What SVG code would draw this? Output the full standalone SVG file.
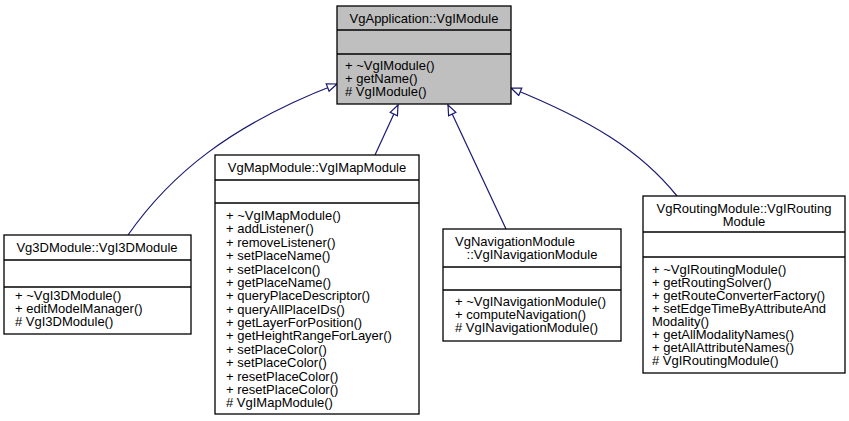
<svg xmlns="http://www.w3.org/2000/svg" width="849" height="421" viewBox="0 0 849 421">
<style>
.b{fill:#fff;stroke:#000;stroke-width:1.3}
.g{fill:#bfbfbf;stroke:#000;stroke-width:1.3}
.s{stroke:#000;stroke-width:1.3}
text{font-family:"Liberation Sans",Arial,sans-serif;font-size:13px;fill:#000}
.c{text-anchor:middle}
.e{fill:none;stroke:#191970;stroke-width:1.2}
</style>
<defs>
<marker id="a" viewBox="0 0 12 10" refX="11" refY="5" markerWidth="12" markerHeight="10" markerUnits="userSpaceOnUse" orient="auto">
<path d="M1,1 L11,5 L1,9 Z" fill="#fff" stroke="#191970" stroke-width="1.2"/>
</marker>
</defs>
<rect width="849" height="421" fill="#fff"/>
<g id="connectors">
<path class="e" marker-end="url(#a)" d="M128,235 C170,175 230,125 337,84"/>
<path class="e" marker-end="url(#a)" d="M375,155 L398,105"/>
<path class="e" marker-end="url(#a)" d="M506,229 L448,105"/>
<path class="e" marker-end="url(#a)" d="M677,196 C640,150 590,120 511,88"/>
</g>
<g id="VgIModule">
<rect class="g" x="337" y="6" width="174" height="98"/>
<line class="s" x1="337" y1="30" x2="511" y2="30"/>
<line class="s" x1="337" y1="54" x2="511" y2="54"/>
<text class="c" x="424" y="23">VgApplication::VgIModule</text>
<text x="345" y="70">+ ~VgIModule()</text>
<text x="345" y="83">+ getName()</text>
<text x="345" y="96"># VgIModule()</text>
</g>
<g id="VgI3DModule">
<rect class="b" x="4" y="235" width="187" height="99"/>
<line class="s" x1="4" y1="260" x2="191" y2="260"/>
<line class="s" x1="4" y1="287" x2="191" y2="287"/>
<text class="c" x="97" y="252">Vg3DModule::VgI3DModule</text>
<text x="15" y="300">+ ~VgI3DModule()</text>
<text x="15" y="313">+ editModelManager()</text>
<text x="15" y="326"># VgI3DModule()</text>
</g>
<g id="VgIMapModule">
<rect class="b" x="215" y="155" width="204" height="259"/>
<line class="s" x1="215" y1="180" x2="419" y2="180"/>
<line class="s" x1="215" y1="203" x2="419" y2="203"/>
<text class="c" x="317" y="172">VgMapModule::VgIMapModule</text>
<text x="226" y="220">+ ~VgIMapModule()</text>
<text x="226" y="233.4">+ addListener()</text>
<text x="226" y="246.8">+ removeListener()</text>
<text x="226" y="260.1">+ setPlaceName()</text>
<text x="226" y="273.5">+ setPlaceIcon()</text>
<text x="226" y="286.9">+ getPlaceName()</text>
<text x="226" y="300.2">+ queryPlaceDescriptor()</text>
<text x="226" y="313.6">+ queryAllPlaceIDs()</text>
<text x="226" y="327">+ getLayerForPosition()</text>
<text x="226" y="340.4">+ getHeightRangeForLayer()</text>
<text x="226" y="353.7">+ setPlaceColor()</text>
<text x="226" y="367.1">+ setPlaceColor()</text>
<text x="226" y="380.5">+ resetPlaceColor()</text>
<text x="226" y="393.8">+ resetPlaceColor()</text>
<text x="226" y="407.2"># VgIMapModule()</text>
</g>
<g id="VgINavigationModule">
<rect class="b" x="443" y="229" width="178" height="112"/>
<line class="s" x1="443" y1="267" x2="621" y2="267"/>
<line class="s" x1="443" y1="290" x2="621" y2="290"/>
<text x="455" y="246">VgNavigationModule</text>
<text class="c" x="532" y="259">::VgINavigationModule</text>
<text x="455" y="306">+ ~VgINavigationModule()</text>
<text x="455" y="319">+ computeNavigation()</text>
<text x="455" y="332"># VgINavigationModule()</text>
</g>
<g id="VgIRoutingModule">
<rect class="b" x="643" y="196" width="202" height="177"/>
<line class="s" x1="643" y1="232" x2="845" y2="232"/>
<line class="s" x1="643" y1="257" x2="845" y2="257"/>
<text class="c" x="744" y="213">VgRoutingModule::VgIRouting</text>
<text class="c" x="744" y="226">Module</text>
<text x="652" y="274">+ ~VgIRoutingModule()</text>
<text x="652" y="287">+ getRoutingSolver()</text>
<text x="652" y="300">+ getRouteConverterFactory()</text>
<text x="652" y="313">+ setEdgeTimeByAttributeAnd</text>
<text x="652" y="326">Modality()</text>
<text x="652" y="339">+ getAllModalityNames()</text>
<text x="652" y="352">+ getAllAttributeNames()</text>
<text x="652" y="365"># VgIRoutingModule()</text>
</g>
</svg>
